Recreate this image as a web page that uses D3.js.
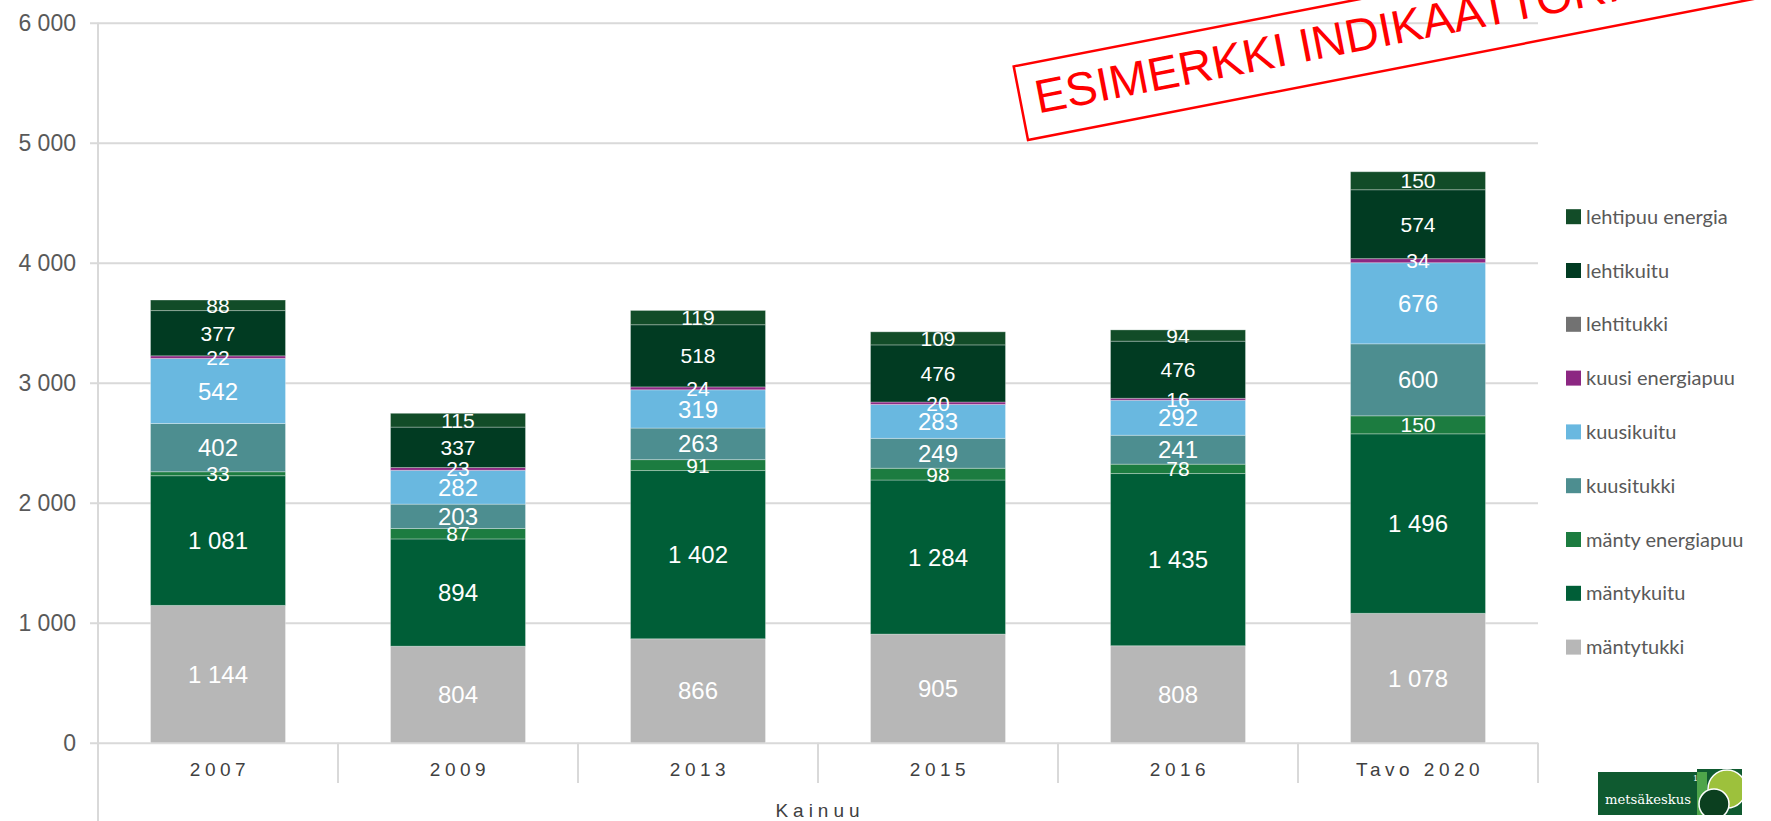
<!DOCTYPE html>
<html>
<head>
<meta charset="utf-8">
<script src="https://cdn.jsdelivr.net/npm/d3@7"></script>
<style>
  body { margin: 0; background: #fff; }
  svg { display: block; }
</style>
</head>
<body>
<div id="chart"></div>
<script>
// Categories and series values
const categories = ["2007", "2009", "2013", "2015", "2016", "Tavo 2020"];
const seriesNames = ["mäntytukki", "mäntykuitu", "mänty energiapuu", "kuusitukki", "kuusikuitu",
    "kuusi energiapuu", "lehtitukki", "lehtikuitu", "lehtipuu energia"];
const mantytukki = [1144, 804, 866, 905, 808, 1078];
const mantykuitu = [1081, 894, 1402, 1284, 1435, 1496];
const mantyEnergia = [33, 87, 91, 98, 78, 150];
const kuusitukki = [402, 203, 263, 249, 241, 600];
const kuusikuitu = [542, 282, 319, 283, 292, 676];
const kuusiEnergia = [22, 23, 24, 20, 16, 34];
const lehtitukki = [0, 0, 0, 0, 0, 0];
const lehtikuitu = [377, 337, 518, 476, 476, 574];
const lehtiEnergia = [88, 115, 119, 109, 94, 150];
const yTicks = [0, 1000, 2000, 3000, 4000, 5000, 6000];
const xTitle = "Kainuu";
const stampText = "ESIMERKKI INDIKAATTORI";

const seriesValues = [mantytukki, mantykuitu, mantyEnergia, kuusitukki, kuusikuitu,
    kuusiEnergia, lehtitukki, lehtikuitu, lehtiEnergia];
const colors = ["#b7b7b7", "#005e37", "#1c7c40", "#4d8e90", "#69b8e0",
    "#8c2782", "#727272", "#013b22", "#124c28"];
const bigLabels = new Set(["mäntytukki", "mäntykuitu", "kuusitukki", "kuusikuitu"]);

// Rows for d3.stack
const rows = categories.map((c, i) => {
    const r = { cat: c };
    seriesNames.forEach((s, j) => r[s] = seriesValues[j][i]);
    return r;
});

const W = 1771, H = 821;
const plot = { left: 98, right: 1538, top: 22.7, bottom: 742.7 };

const fi = d3.formatLocale({ decimal: ",", thousands: " ", grouping: [3], currency: ["", ""] });
const fmt = fi.format(",");

const svg = d3.select("#chart").append("svg").attr("width", W).attr("height", H);

const x = d3.scaleBand().domain(categories).range([plot.left, plot.right])
    .paddingInner(0.4375).paddingOuter(0.21875);
const y = d3.scaleLinear().domain([0, 6000]).range([plot.bottom, plot.top]);

// gridlines + y labels
const yAxis = svg.append("g")
    .attr("transform", `translate(${plot.left},0)`)
    .call(d3.axisLeft(y).tickValues(yTicks).tickFormat(fmt).tickSize(8).tickPadding(14));
yAxis.select(".domain").remove();
yAxis.selectAll(".tick line").attr("stroke", "#d9d9d9").attr("stroke-width", 2)
    .attr("x1", -8).attr("x2", plot.right - plot.left);
yAxis.selectAll(".tick text")
    .attr("fill", "#595959")
    .style("font-family", "'Liberation Sans', Arial, sans-serif")
    .style("font-size", "23px");

// y axis line, running down to the bottom of the image
svg.append("line").attr("x1", plot.left).attr("x2", plot.left).attr("y1", plot.top).attr("y2", H)
    .attr("stroke", "#d9d9d9").attr("stroke-width", 2);

// category separators below the axis
const seps = categories.map(c => x(c) - x.step() * x.paddingInner() / 2).slice(1).concat([plot.right]);
svg.selectAll(".sep").data(seps).join("line")
    .attr("x1", d => d).attr("x2", d => d)
    .attr("y1", plot.bottom).attr("y2", 783)
    .attr("stroke", "#d9d9d9").attr("stroke-width", 2);

// stacked bars
const stack = d3.stack().keys(seriesNames)(rows);
const layer = svg.selectAll(".layer").data(stack).join("g")
    .attr("fill", (d, i) => colors[i]);
layer.selectAll("rect").data(d => d).join("rect")
    .attr("x", d => x(d.data.cat))
    .attr("width", x.bandwidth())
    .attr("y", d => y(d[1]))
    .attr("height", d => y(d[0]) - y(d[1]))
    .attr("stroke", "rgba(255,255,255,0.3)")
    .attr("stroke-width", 1);

// segment labels
stack.forEach(s => {
    svg.append("g").selectAll("text").data(s.filter(d => d[1] - d[0] > 0)).join("text")
        .attr("x", d => x(d.data.cat) + x.bandwidth() / 2)
        .attr("y", d => y((d[0] + d[1]) / 2))
        .attr("dy", "0.36em")
        .attr("text-anchor", "middle")
        .attr("fill", "#fff")
        .style("font-family", "'Liberation Sans', Arial, sans-serif")
        .style("font-size", bigLabels.has(s.key) ? "24px" : "21px")
        .text(d => fmt(d[1] - d[0]));
});

// x labels
svg.selectAll(".xl").data(categories).join("text")
    .attr("x", d => x(d) + x.bandwidth() / 2 + 2)
    .attr("y", 776)
    .attr("text-anchor", "middle")
    .attr("fill", "#404040")
    .style("font-family", "'Liberation Sans', Arial, sans-serif")
    .style("font-size", "19px")
    .style("letter-spacing", "4.5px")
    .text(d => d);

svg.append("text")
    .attr("x", (plot.left + plot.right) / 2 + 2).attr("y", 817)
    .attr("text-anchor", "middle").attr("fill", "#404040")
    .style("font-family", "'Liberation Sans', Arial, sans-serif")
    .style("font-size", "19px").style("letter-spacing", "5px")
    .text(xTitle);

// legend (top to bottom = reverse stacking order)
const legendItems = seriesNames.map((s, i) => ({ name: s, color: colors[i] })).reverse();
const leg = svg.selectAll(".leg").data(legendItems).join("g")
    .attr("transform", (d, i) => `translate(1566,${216.7 + i * 53.8})`);
leg.append("rect").attr("x", 0).attr("y", -7.5).attr("width", 15).attr("height", 15)
    .attr("fill", d => d.color);
leg.append("text").attr("x", 20).attr("dy", "0.35em")
    .attr("fill", "#595959")
    .style("font-family", "Lato, 'Open Sans', sans-serif")
    .style("font-size", "20px")
    .text(d => d.name);

// red stamp
const stamp = svg.append("g").attr("transform", "translate(1028,140) rotate(-11)");
stamp.append("rect").attr("x", 0).attr("y", -75).attr("width", 900).attr("height", 75)
    .attr("fill", "none").attr("stroke", "#ff0000").attr("stroke-width", 2.5);
stamp.append("text").attr("x", 15).attr("y", -24)
    .attr("fill", "#ff0000")
    .style("font-family", "'Liberation Sans', Arial, sans-serif")
    .style("font-size", "47px")
    .text(stampText);

// logo
const logo = svg.append("g");
logo.append("rect").attr("x", 1598).attr("y", 772).attr("width", 99).attr("height", 43).attr("fill", "#0f5a30");
logo.append("text").attr("x", 1605).attr("y", 804).attr("fill", "#fff")
    .attr("textLength", 86).attr("lengthAdjust", "spacingAndGlyphs")
    .style("font-family", "'DejaVu Serif', serif").style("font-size", "13px")
    .text("metsäkeskus");
logo.append("text").attr("x", 1693).attr("y", 781).attr("fill", "#fff")
    .style("font-family", "'DejaVu Serif', serif").style("font-size", "8px")
    .text("1");
svg.append("clipPath").attr("id", "logoclip").append("rect")
    .attr("x", 1697).attr("y", 769).attr("width", 45).attr("height", 46);
const patch = logo.append("g").attr("clip-path", "url(#logoclip)");
patch.append("rect").attr("x", 1697).attr("y", 769).attr("width", 45).attr("height", 46).attr("fill", "#0f5a30");
patch.append("rect").attr("x", 1697).attr("y", 772).attr("width", 10).attr("height", 43).attr("fill", "#4ea54a");
patch.append("circle").attr("cx", 1727).attr("cy", 789).attr("r", 19)
    .attr("fill", "#9dc13c").attr("stroke", "#fff").attr("stroke-width", 1.5);
patch.append("circle").attr("cx", 1714).attr("cy", 804).attr("r", 15)
    .attr("fill", "#0b3f1f").attr("stroke", "#fff").attr("stroke-width", 1.5);
</script>
</body>
</html>
